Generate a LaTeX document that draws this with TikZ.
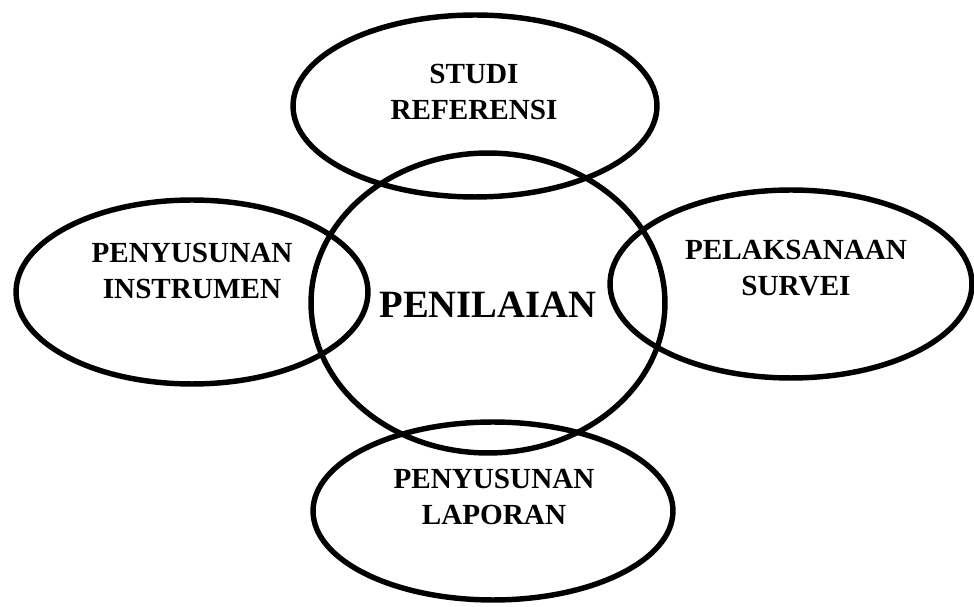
\documentclass[tikz,border=0pt]{standalone}
\usepackage{fontspec}
\setmainfont{Liberation Serif}
\usetikzlibrary{shapes}
\tikzset{
    myoval/.style = {ellipse, line width=3.1pt, draw=black, inner sep=0pt},
    mytext/.style = {align=center, font=\bfseries\fontsize{16.6}{20.6}\selectfont, text=black},
    mytextb/.style = {align=center, font=\bfseries\fontsize{22}{26}\selectfont, text=black},
}
\begin{document}
\begin{tikzpicture}[x=0.02cm, y=-0.02cm]
\path[use as bounding box] (0,0) rectangle (974,607);
\node[myoval, minimum width=7.28cm, minimum height=3.64cm] at (475,106) (stu) {};
\node[myoval, minimum width=7.08cm, minimum height=6.00cm] at (488,303) (pen) {};
\node[myoval, minimum width=7.04cm, minimum height=3.68cm] at (192,292) (ins) {};
\node[myoval, minimum width=7.24cm, minimum height=3.76cm] at (791,284) (sur) {};
\node[myoval, minimum width=7.20cm, minimum height=3.56cm] at (493,511) (lap) {};
%
\node[mytext] at (474,92) (stut) {STUDI\\REFERENSI};
\node[mytextb] at (488,305) (pent) {PENILAIAN};
\node[mytext] at (192,271) (inst) {PENYUSUNAN\\INSTRUMEN};
\node[mytext] at (796,268) (surt) {PELAKSANAAN\\SURVEI};
\node[mytext] at (494,497) (lapt) {PENYUSUNAN\\LAPORAN};
\end{tikzpicture}
\end{document}
